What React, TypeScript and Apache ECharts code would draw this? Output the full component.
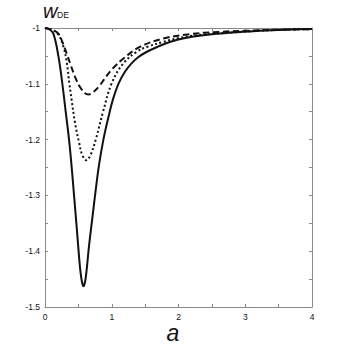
import React, { useEffect, useRef } from "react";
import * as echarts from "echarts";

const xTicks = [0, 1, 2, 3, 4];
const yTickLabels = ["-1", "-1.1", "-1.2", "-1.3", "-1.4", "-1.5"];

const solidA = [0, 0.06, 0.125, 0.2, 0.26, 0.31, 0.36, 0.4, 0.435, 0.47, 0.5, 0.525, 0.545, 0.562, 0.576, 0.59, 0.607, 0.627, 0.66, 0.71, 0.755, 0.81, 0.875, 0.95, 1.02, 1.1, 1.2, 1.3, 1.4, 1.52, 1.7, 1.87, 2.1, 2.37, 2.8, 3.2, 3.6, 4.0];
const solidW = [-1.0, -1.002, -1.01, -1.05, -1.1, -1.15, -1.2, -1.25, -1.3, -1.35, -1.395, -1.43, -1.449, -1.459, -1.463, -1.46, -1.45, -1.43, -1.39, -1.34, -1.295, -1.245, -1.2, -1.16, -1.127, -1.1, -1.078, -1.063, -1.052, -1.043, -1.033, -1.025, -1.018, -1.013, -1.008, -1.005, -1.003, -1.002];

const dottedA = [0, 0.1, 0.2, 0.28, 0.33, 0.365, 0.4, 0.45, 0.51, 0.56, 0.62, 0.68, 0.76, 0.87, 1.0, 1.17, 1.37, 1.55, 1.77, 2.0, 2.27, 2.8, 3.2, 3.6, 4.0];
const dottedW = [-1.0, -1.003, -1.012, -1.035, -1.065, -1.1, -1.13, -1.17, -1.205, -1.228, -1.237, -1.228, -1.2, -1.15, -1.099, -1.064, -1.043, -1.033, -1.025, -1.018, -1.013, -1.008, -1.005, -1.003, -1.002];

const dashedA = [0, 0.1, 0.2, 0.26, 0.325, 0.39, 0.45, 0.52, 0.6, 0.65, 0.71, 0.8, 0.88, 0.974, 1.07, 1.17, 1.42, 1.77, 2.17, 2.6, 3.0, 3.5, 4.0];
const dashedW = [-1.0, -1.003, -1.01, -1.025, -1.046, -1.068, -1.0875, -1.105, -1.117, -1.119, -1.116, -1.106, -1.093, -1.078, -1.066, -1.055, -1.034, -1.019, -1.011, -1.007, -1.005, -1.003, -1.002];

const zip = (a: number[], w: number[]) => a.map((v, i) => [v, w[i]]);

export default function App() {
  const ref = useRef<HTMLDivElement>(null);
  useEffect(() => {
    document.body.style.margin = "0";
    const chart = echarts.init(ref.current!, null, { renderer: "svg" });
    const frame = "#8a8a8a";
    const axisCommon = {
      type: "value" as const,
      axisLine: { show: true, onZero: false, lineStyle: { color: frame, width: 1 } },
      axisTick: { show: true, inside: true, length: 3, lineStyle: { color: frame } },
      minorTick: { show: true, splitNumber: 2, length: 3, lineStyle: { color: frame } },
      splitLine: { show: false },
    };
    const labelStyle = { color: "#111", fontSize: 8.5, fontFamily: "Liberation Sans" };
    chart.setOption({
      animation: false,
      grid: { left: 45, right: 34, top: 28, bottom: 39, containLabel: false },
      xAxis: [
        {
          ...axisCommon,
          position: "bottom",
          min: 0,
          max: 4,
          interval: 1,
          axisLabel: { ...labelStyle, margin: 5, formatter: (v: number) => (xTicks.includes(v) ? String(v) : "") },
        },
        {
          ...axisCommon,
          position: "top",
          min: 0,
          max: 4,
          interval: 1,
          axisLabel: { show: false },
        },
      ],
      yAxis: [
        {
          ...axisCommon,
          position: "left",
          min: -1.5,
          max: -1,
          interval: 0.1,
          axisLabel: {
            ...labelStyle,
            margin: 5,
            formatter: (v: number) => {
              const i = Math.round((-1 - v) / 0.1);
              return yTickLabels[i] ?? "";
            },
          },
        },
        {
          ...axisCommon,
          position: "right",
          min: -1.5,
          max: -1,
          interval: 0.1,
          axisLabel: { show: false },
        },
      ],
      graphic: [
        {
          type: "text",
          style: { text: "w", x: 43, y: 11, verticalAlign: "middle", fontSize: 20, fontStyle: "italic", fontFamily: "Liberation Sans", fill: "#111" },
        },
        {
          type: "text",
          style: { text: "DE", x: 57, y: 14.5, verticalAlign: "middle", fontSize: 8.5, fontFamily: "Liberation Sans", fill: "#111" },
        },
        {
          type: "text",
          style: { text: "a", x: 173, y: 333, align: "center", verticalAlign: "middle", fontSize: 23, lineHeight: 23, fontStyle: "italic", fontFamily: "Liberation Sans", fill: "#111" },
        },
      ],
      series: [
        {
          type: "line",
          data: zip(solidA, solidW),
          showSymbol: false,
          smooth: 0.4,
          lineStyle: { color: "#111", width: 2 },
        },
        {
          type: "line",
          data: zip(dottedA, dottedW),
          showSymbol: false,
          smooth: 0.4,
          lineStyle: { color: "#111", width: 2, type: [2, 2.5] },
        },
        {
          type: "line",
          data: zip(dashedA, dashedW),
          showSymbol: false,
          smooth: 0.4,
          lineStyle: { color: "#111", width: 2, type: [6.5, 3.5] },
        },
      ],
    });
    return () => chart.dispose();
  }, []);
  return <div ref={ref} style={{ width: 346, height: 346 }} />;
}
